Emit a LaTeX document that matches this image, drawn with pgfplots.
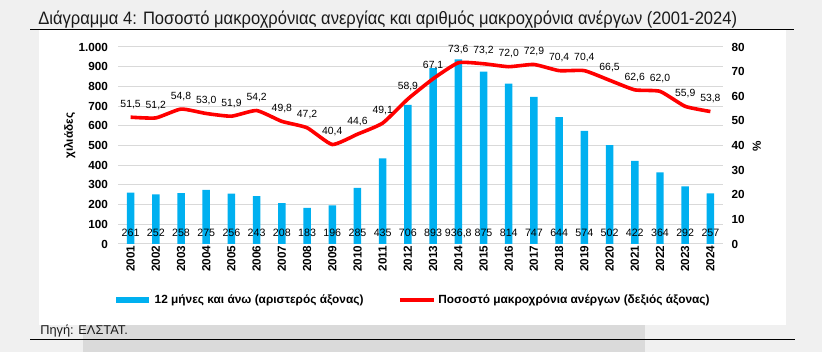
\documentclass[border=0pt]{standalone}
\usepackage{pgfplots}
\pgfplotsset{compat=1.18}
\usepackage{pgfplotstable}
\usepackage{fontspec}
\setmainfont{Liberation Sans}
\newfontfamily\titlefont[FakeStretch=0.92]{Liberation Sans}
\definecolor{barblue}{HTML}{00B0F0}
\definecolor{gridgray}{HTML}{D9D9D9}
\definecolor{bggray}{HTML}{F0F0F0}
\definecolor{bandgray}{HTML}{DADADA}
\definecolor{titletext}{HTML}{1A1A1A}

\pgfplotstableread{
x bar barlab pct pctlab
0 261 261 51.5 51,5
1 252 252 51.2 51,2
2 258 258 54.8 54,8
3 275 275 53.0 53,0
4 256 256 51.9 51,9
5 243 243 54.2 54,2
6 208 208 49.8 49,8
7 183 183 47.2 47,2
8 196 196 40.4 40,4
9 285 285 44.6 44,6
10 435 435 49.1 49,1
11 706 706 58.9 58,9
12 893 893 67.1 67,1
13 936.8 936,8 73.6 73,6
14 875 875 73.2 73,2
15 814 814 72.0 72,0
16 747 747 72.9 72,9
17 644 644 70.4 70,4
18 574 574 70.4 70,4
19 502 502 66.5 66,5
20 422 422 62.6 62,6
21 364 364 62.0 62,0
22 292 292 55.9 55,9
23 257 257 53.8 53,8
}\data

\begin{document}
\begin{tikzpicture}
\begin{scope}[x=0.75pt,y=-0.75pt]
  \fill[bggray] (0,0) rectangle (822,352);
  \fill[white] (39,30) rectangle (786,325);
  \fill[bandgray] (83,325) rectangle (645,352);
  \draw[black, line width=0.75pt] (30,29.5) -- (794,29.5);
  \draw[black, line width=0.75pt] (30,340) -- (795,340);
  \node[anchor=base west, inner sep=0pt, text=titletext, font=\titlefont\fontsize{13.5}{15}\selectfont] at (38,25)
    {Διάγραμμα 4: Ποσοστό μακροχρόνιας ανεργίας και αριθμός μακροχρόνια ανέργων (2001-2024)};
  \node[anchor=base west, inner sep=0pt, text=titletext, font=\fontsize{9.6}{11}\selectfont] at (40,335)
    {Πηγή: ΕΛΣΤΑΤ.};
\end{scope}

\begin{axis}[
  at={(88.5pt,-183pt)}, anchor=south west,
  scale only axis, width=453.75pt, height=147.75pt,
  xmin=-0.5, xmax=23.5, ymin=0, ymax=1000,
  axis line style={draw=none}, major tick length=0pt,
  ytick={0,100,...,1000},
  ymajorgrids, grid style={gridgray, line width=0.75pt},
  xtick={0,...,23},
  xticklabels={2001,2002,2003,2004,2005,2006,2007,2008,2009,2010,2011,2012,2013,2014,2015,2016,2017,2018,2019,2020,2021,2022,2023,2024},
  x tick label style={rotate=90, anchor=east, font=\bfseries\fontsize{8.8}{10}\selectfont, inner sep=1pt},
  y tick label style={font=\bfseries\fontsize{8.8}{10}\selectfont, xshift=-4pt},
  /pgf/number format/.cd, 1000 sep={.}, assume math mode=true,
  /pgfplots/.cd,
  ylabel={χιλιάδες},
  ylabel style={at={(axis description cs:-0.08,0.55)}, anchor=center, font=\bfseries\fontsize{8.8}{10}\selectfont},
  clip=false,
]
\addplot[ybar, bar width=5.6pt, fill=barblue, draw=none, forget plot] table[x=x,y=bar]{\data};
\addplot[draw=none, mark=none, nodes near coords, point meta=explicit symbolic,
  every node near coord/.append style={anchor=center, font=\fontsize{8}{9}\selectfont, text=black, inner sep=0pt},
  forget plot] table[x=x, y expr=55, meta=barlab]{\data};
\end{axis}

\begin{axis}[
  at={(88.5pt,-183pt)}, anchor=south west,
  scale only axis, width=453.75pt, height=147.75pt,
  xmin=-0.5, xmax=23.5, ymin=0, ymax=80,
  axis y line*=right, axis x line=none,
  axis line style={draw=none}, major tick length=0pt,
  ytick={0,10,...,80},
  y tick label style={font=\bfseries\fontsize{8.8}{10}\selectfont, xshift=3pt},
  /pgf/number format/assume math mode=true,
  ylabel={\%},
  ylabel style={at={(axis description cs:1.056,0.497)}, anchor=center, font=\bfseries\fontsize{8.8}{10}\selectfont},
  legend style={at={(axis description cs:0.487,-0.284)}, anchor=center, draw=none, fill=none,
    legend columns=2, font=\bfseries\fontsize{8.9}{10}\selectfont,
    /tikz/every even column/.append style={column sep=24pt}},
  clip=false,
]
\addplot[red, line width=2.7pt, smooth, tension=0.3, forget plot,
  nodes near coords, point meta=explicit symbolic,
  every node near coord/.append style={anchor=south, yshift=5pt, font=\fontsize{7.8}{9}\selectfont, text=black, inner sep=0pt}]
  table[x=x, y=pct, meta=pctlab]{\data};
\addlegendimage{legend image code/.code={\draw[barblue, line width=4.5pt] (0pt,0pt) -- (24.75pt,0pt);}}
\addlegendentry{12 μήνες και άνω (αριστερός άξονας)}
\addlegendimage{legend image code/.code={\draw[red, line width=2.6pt] (0pt,0pt) -- (25.5pt,0pt);}}
\addlegendentry{Ποσοστό μακροχρόνια ανέργων (δεξιός άξονας)}
\end{axis}
\pgfresetboundingbox
\path[use as bounding box] (0,0) rectangle (616.5pt,-264pt);
\end{tikzpicture}
\end{document}
